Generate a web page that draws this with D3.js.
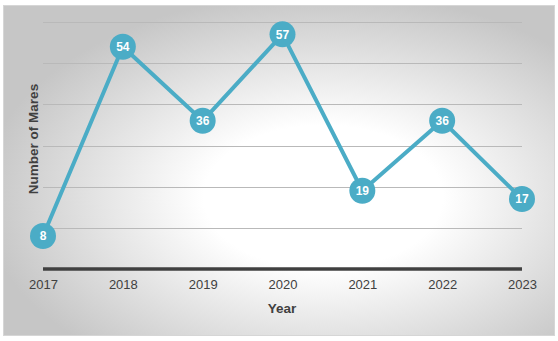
<!DOCTYPE html>
<html>
<head>
<meta charset="utf-8">
<script src="https://cdn.jsdelivr.net/npm/d3@7"></script>
<style>
  body { margin: 0; background: #fff; }
  text { font-family: "Liberation Sans", Arial, sans-serif; }
</style>
</head>
<body>
<div id="chart"></div>
<script>
// chart values
var years = ["2017", "2018", "2019", "2020", "2021", "2022", "2023"];
var mares = [8, 54, 36, 57, 19, 36, 17];
var gridTicks = [0, 10, 20, 30, 40, 50, 60];

var width = 558, height = 341;
var margin = {top: 22, right: 36, bottom: 72, left: 43};

var svg = d3.select("#chart").append("svg")
    .attr("width", width)
    .attr("height", height);

// background gradient
var defs = svg.append("defs");
var grad = defs.append("radialGradient")
    .attr("id", "bg")
    .attr("cx", "58%").attr("cy", "58%")
    .attr("r", "62%");
grad.append("stop").attr("offset", "0%").attr("stop-color", "#ffffff");
grad.append("stop").attr("offset", "35%").attr("stop-color", "#ffffff");
grad.append("stop").attr("offset", "100%").attr("stop-color", "#c6c6c6");

svg.append("rect")
    .attr("x", 3.5).attr("y", 5.5)
    .attr("width", 551).attr("height", 330)
    .attr("fill", "url(#bg)")
    .attr("stroke", "#d6d6d6");

var x = d3.scalePoint().domain(years).range([margin.left, width - margin.right]);
var y = d3.scaleLinear().domain([0, 60]).range([269, 22]);

// gridlines
svg.append("g")
    .selectAll("line")
    .data(gridTicks.slice(1))
    .enter().append("line")
    .attr("x1", x(years[0]))
    .attr("x2", x(years[years.length - 1]))
    .attr("y1", function(d) { return Math.round(y(d)) + 0.5; })
    .attr("y2", function(d) { return Math.round(y(d)) + 0.5; })
    .attr("stroke", "#b9b9b9")
    .attr("stroke-width", 1);

// x axis
var xAxis = d3.axisBottom(x).tickSize(0).tickPadding(11);
var gx = svg.append("g")
    .attr("transform", "translate(0," + y(0) + ")")
    .call(xAxis);
gx.select(".domain")
    .attr("d", "M" + x(years[0]) + ",0H" + x(years[years.length - 1]))
    .attr("stroke", "#404040")
    .attr("stroke-width", 3.5);
gx.selectAll(".tick text")
    .style("font-family", "'Liberation Sans', Arial, sans-serif")
    .style("font-size", "13px")
    .attr("fill", "#404040");

// axis titles
svg.append("text")
    .attr("x", 282).attr("y", 313)
    .attr("text-anchor", "middle")
    .style("font-size", "13.5px")
    .style("font-weight", "bold")
    .attr("fill", "#404040")
    .text("Year");

svg.append("text")
    .attr("transform", "translate(38,139) rotate(-90)")
    .attr("text-anchor", "middle")
    .style("font-size", "13.5px")
    .style("font-weight", "bold")
    .attr("fill", "#404040")
    .text("Number of Mares");

// line
var line = d3.line()
    .x(function(d, i) { return x(years[i]); })
    .y(function(d) { return y(d); });

svg.append("path")
    .datum(mares)
    .attr("d", line)
    .attr("fill", "none")
    .attr("stroke", "#4bacc6")
    .attr("stroke-width", 4)
    .attr("stroke-linejoin", "round");

// markers
var pts = svg.append("g")
    .selectAll("g")
    .data(mares)
    .enter().append("g")
    .attr("transform", function(d, i) { return "translate(" + x(years[i]) + "," + y(d) + ")"; });

pts.append("circle")
    .attr("r", 13)
    .attr("fill", "#4bacc6");

pts.append("text")
    .attr("text-anchor", "middle")
    .attr("dy", "0.36em")
    .style("font-size", "12px")
    .style("font-weight", "bold")
    .attr("fill", "#ffffff")
    .text(function(d) { return d; });
</script>
</body>
</html>
